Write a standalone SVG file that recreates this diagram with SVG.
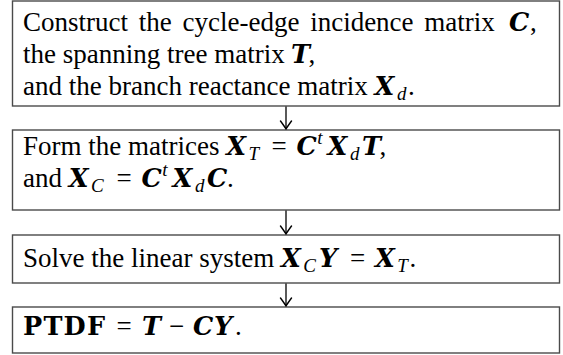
<svg xmlns="http://www.w3.org/2000/svg" width="563" height="355" viewBox="0 0 563 355">
<style>
.box{fill:#fff;stroke:#4a4a4a;stroke-width:1.4}
text{font-family:"Liberation Serif","Times New Roman",serif;font-size:27px;fill:#000}
.m{font-family:"DejaVu Serif",serif;font-weight:bold;font-style:italic;font-size:25.5px}
.s{font-style:italic;font-size:19px}
.b{font-family:"DejaVu Serif",serif;font-weight:bold;font-size:25.5px}
.con line{stroke:#000;stroke-width:1.3}
</style>
<defs>
<marker id="ah" viewBox="-9 -7 10 14" markerWidth="10" markerHeight="14" refX="0" refY="0" orient="auto" markerUnits="userSpaceOnUse">
<path d="M-8,-5.5 Q-2.5,-1.5 0,0 Q-2.5,1.5 -8,5.5" fill="none" stroke="#000" stroke-width="1.4" stroke-linecap="round"/>
</marker>
</defs>
<rect width="563" height="355" fill="#fff"/>
<g id="n1">
<rect class="box" x="12.5" y="1" width="547" height="105"/>
<text y="30.5"><tspan x="23" word-spacing="4">Construct the cycle-edge incidence matrix</tspan><tspan class="m" x="509">C</tspan><tspan x="530">,</tspan></text>
<text y="63"><tspan x="23">the spanning tree matrix</tspan><tspan class="m" x="291">T</tspan><tspan x="308.5">,</tspan></text>
<text y="95.3"><tspan x="23">and the branch reactance matrix</tspan><tspan class="m" x="374.6">X</tspan><tspan class="s" x="397" dy="5">d</tspan><tspan x="408" dy="-5">.</tspan></text>
</g>
<g id="n2">
<rect class="box" x="12.5" y="130" width="547" height="80"/>
<text y="155"><tspan x="23">Form the matrices</tspan><tspan class="m" x="226.2">X</tspan><tspan class="s" x="248.5" dy="5">T</tspan><tspan x="271.5" dy="-5">=</tspan><tspan class="m" x="296.5">C</tspan><tspan class="s" x="317.3" dy="-11">t</tspan><tspan class="m" x="327.5" dy="11">X</tspan><tspan class="s" x="350" dy="5">d</tspan><tspan class="m" x="362" dy="-5">T</tspan><tspan x="379.5">,</tspan></text>
<text y="187"><tspan x="23">and</tspan><tspan class="m" x="68.7">X</tspan><tspan class="s" x="91" dy="5">C</tspan><tspan x="116.5" dy="-5">=</tspan><tspan class="m" x="141.5">C</tspan><tspan class="s" x="162.3" dy="-11">t</tspan><tspan class="m" x="172.5" dy="11">X</tspan><tspan class="s" x="195" dy="5">d</tspan><tspan class="m" x="207" dy="-5">C</tspan><tspan x="227">.</tspan></text>
</g>
<g id="n3">
<rect class="box" x="12.5" y="235" width="547" height="48"/>
<text y="267"><tspan x="23">Solve the linear system</tspan><tspan class="m" x="281">X</tspan><tspan class="s" x="303.3" dy="5">C</tspan><tspan class="m" x="319" dy="-5">Y</tspan><tspan x="350">=</tspan><tspan class="m" x="375">X</tspan><tspan class="s" x="397.3" dy="5">T</tspan><tspan x="409.5" dy="-5">.</tspan></text>
</g>
<g id="n4">
<rect class="box" x="12.5" y="307" width="547" height="46"/>
<text y="335"><tspan class="b" x="23" textLength="82" lengthAdjust="spacing">PTDF</tspan><tspan x="116.5">=</tspan><tspan class="m" x="142">T</tspan><tspan x="169">−</tspan><tspan class="m" x="193">C</tspan><tspan class="m" x="214">Y</tspan><tspan x="235">.</tspan></text>
</g>
<g class="con">
<line x1="286" y1="106.5" x2="286" y2="129" marker-end="url(#ah)"/>
<line x1="286" y1="210.5" x2="286" y2="234" marker-end="url(#ah)"/>
<line x1="286" y1="283.5" x2="286" y2="306" marker-end="url(#ah)"/>
</g>
</svg>
